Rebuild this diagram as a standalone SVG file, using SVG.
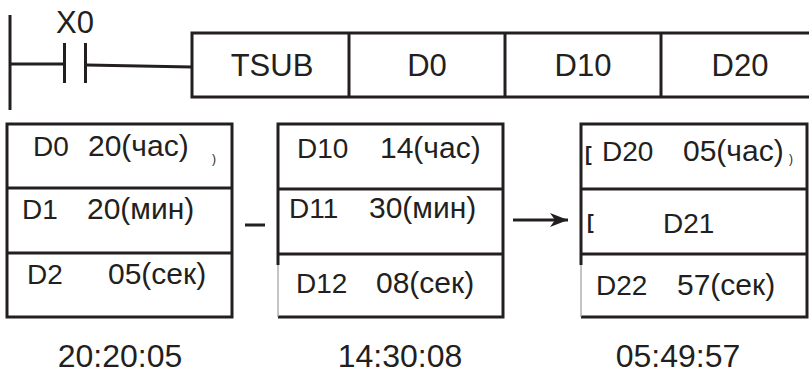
<svg xmlns="http://www.w3.org/2000/svg" width="809" height="376" viewBox="0 0 809 376">
<style>
text{font-family:"Liberation Sans",Arial,sans-serif;fill:#231f20}
.t{font-size:31px}
.c{font-size:28px}
.v{font-size:30px}
.big{font-size:32px}
.ln{stroke:#231f20;stroke-width:3;fill:none}
.thin{stroke:#888;stroke-width:1;fill:none}
.art{font-size:20px;font-weight:bold}
.sm{font-size:12px}
</style>
<defs>
<marker id="ah" markerWidth="20" markerHeight="16" refX="18" refY="8" orient="auto" markerUnits="userSpaceOnUse">
<path d="M0,1 L18,8 L0,15 L5,8 Z" fill="#231f20"/>
</marker>
</defs>
<rect width="809" height="376" fill="#fff"/>
<g id="rung">
<line class="ln" x1="10" y1="15" x2="10" y2="110"/>
<line class="ln" x1="10" y1="64" x2="64" y2="64"/>
<line class="ln" x1="64.5" y1="43" x2="64.5" y2="83"/>
<line class="ln" x1="85.5" y1="43" x2="85.5" y2="83"/>
<text class="t" x="75" y="33" text-anchor="middle">X0</text>
</g>
<g id="instruction">
<rect class="ln" x="192" y="33" width="630" height="64"/>
<line class="ln" x1="349" y1="33" x2="349" y2="97"/>
<line class="ln" x1="505" y1="33" x2="505" y2="97"/>
<line class="ln" x1="661" y1="33" x2="661" y2="97"/>
<text class="t" x="272" y="76" text-anchor="middle">TSUB</text>
<text class="t" x="427" y="76" text-anchor="middle">D0</text>
<text class="t" x="583" y="76" text-anchor="middle">D10</text>
<text class="t" x="740" y="76" text-anchor="middle">D20</text>
</g>
<g id="box1">
<rect class="ln" x="7" y="124" width="225" height="193"/>
<line class="ln" x1="7" y1="188" x2="232" y2="188"/>
<line class="ln" x1="7" y1="253" x2="232" y2="253"/>
<text class="c" x="33" y="156">D0</text><text class="v" x="88" y="156">20(час)</text>
<text class="sm" x="212" y="163">)</text>
<text class="c" x="22" y="219">D1</text><text class="v" x="87" y="219">20(мин)</text>
<text class="c" x="27" y="284">D2</text><text class="v" x="108" y="284">05(сек)</text>
</g>
<g id="box2">
<path class="ln" d="M278,265 V124 H503 V317 H278"/>
<line class="thin" x1="278" y1="265" x2="278" y2="317"/>
<line class="ln" x1="278" y1="189" x2="503" y2="189"/>
<line class="ln" x1="278" y1="254" x2="503" y2="254"/>
<text class="c" x="297" y="158">D10</text><text class="v" x="380" y="158">14(час)</text>
<text class="c" x="289" y="218">D11</text><text class="v" x="369" y="218">30(мин)</text>
<text class="c" x="296" y="293">D12</text><text class="v" x="376" y="293">08(сек)</text>
</g>
<g id="box3">
<path class="ln" d="M581,265 V124 H807 V317 H581"/>
<line class="thin" x1="581" y1="265" x2="581" y2="317"/>
<line class="ln" x1="581" y1="189" x2="807" y2="189"/>
<line class="ln" x1="581" y1="254" x2="807" y2="254"/>
<text class="art" x="585" y="161">[</text>
<text class="c" x="602" y="161">D20</text><text class="v" x="683" y="161">05(час)</text>
<text class="sm" x="789" y="163">)</text>
<text class="art" x="587" y="229">[</text>
<text class="c" x="663" y="233">D21</text>
<text class="c" x="596" y="295">D22</text><text class="v" x="677" y="295">57(сек)</text>
</g>
<g id="connectors">
<path class="ln" d="M87,65 L192,67"/>
<line class="ln" x1="245" y1="225" x2="265" y2="225"/>
<line class="ln" x1="513" y1="220" x2="568" y2="220" marker-end="url(#ah)"/>
</g>
<g id="times">
<text class="big" x="120" y="367" text-anchor="middle">20:20:05</text>
<text class="big" x="400" y="367" text-anchor="middle">14:30:08</text>
<text class="big" x="678" y="367" text-anchor="middle">05:49:57</text>
</g>
</svg>
